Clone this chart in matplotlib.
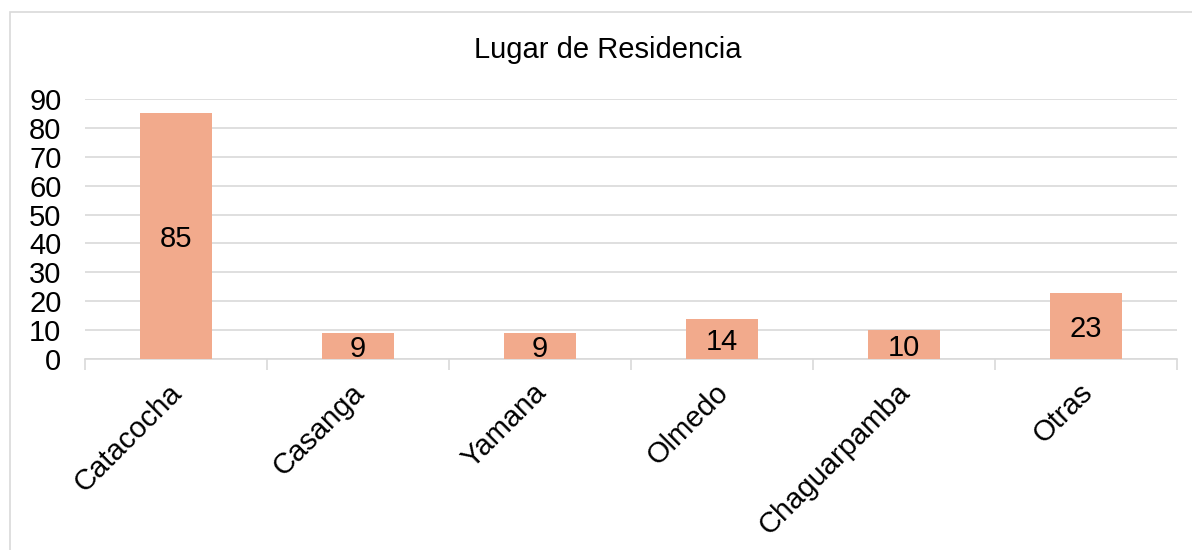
import matplotlib.pyplot as plt
import matplotlib.transforms as mtransforms
from matplotlib.patches import Rectangle

# Data
categories = ["Catacocha", "Casanga", "Yamana", "Olmedo", "Chaguarpamba", "Otras"]
values = [85, 9, 9, 14, 10, 23]

plt.rcParams['font.family'] = ['Liberation Sans', 'DejaVu Sans']

fig = plt.figure(figsize=(11.92, 5.5), dpi=100)
# chart border (only left and top edges fall inside the picture)
fig.patches.append(Rectangle((10 / 1192, -0.1), 1.2, 1.1 - 12 / 550,
                             transform=fig.transFigure, fill=False,
                             edgecolor='#D9D9D9', linewidth=1.2))

ax = fig.add_axes([85 / 1192, (550 - 359) / 550, (1177 - 85) / 1192, 260 / 550])
x = range(len(categories))
bars = ax.bar(x, values, width=0.4, color='#F2AA8C', zorder=3)
for b, v in zip(bars, values):
    ax.text(b.get_x() + b.get_width() / 2, v / 2, str(v), ha='center', va='center_baseline',
            fontsize=21, color='black', zorder=4)

ax.set_xlim(-0.5, len(categories) - 0.5)
ax.set_ylim(0, 90)
ax.set_yticks(range(0, 91, 10))
ax.tick_params(axis='y', length=0, labelsize=21, pad=17)
ax.grid(axis='y', color='#D9D9D9', linewidth=1.2, zorder=0)

ax.set_xticks(list(x))
ax.set_xticklabels(categories, rotation=45, ha='right', rotation_mode='anchor', fontsize=21)
ax.tick_params(axis='x', length=0, pad=14)
shift = mtransforms.ScaledTranslation(-8 / 100, 0, fig.dpi_scale_trans)
for lbl in ax.get_xticklabels():
    lbl.set_transform(lbl.get_transform() + shift)
ax.set_xticks([i - 0.5 for i in range(len(categories) + 1)], minor=True)
ax.tick_params(axis='x', which='minor', length=8, color='#D9D9D9', width=1.2)

for s in ['top', 'right', 'left']:
    ax.spines[s].set_visible(False)
ax.spines['bottom'].set_color('#D9D9D9')
ax.spines['bottom'].set_linewidth(1.2)

fig.text(608 / 1192, 1 - 50 / 550, "Lugar de Residencia", ha='center', va='center', fontsize=21)

fig.savefig('out.png', dpi=100)
